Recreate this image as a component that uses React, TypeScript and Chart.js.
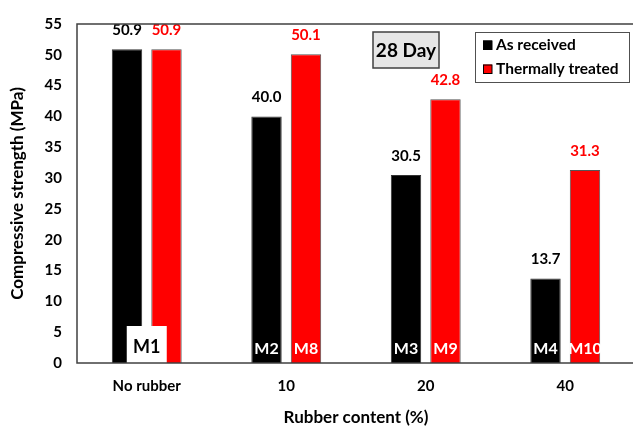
import React, { useEffect, useRef } from "react";
import { Chart, registerables } from "chart.js";

Chart.register(...registerables);

const categories = ["No rubber", "10", "20", "40"];
const asReceived = [50.9, 40.0, 30.5, 13.7];
const thermallyTreated = [50.9, 50.1, 42.8, 31.3];
const asReceivedMix = ["M1", "M2", "M3", "M4"];
const treatedMix = ["", "M8", "M9", "M10"];
const seriesNames = ["As received", "Thermally treated"];
const seriesColors = ["#000000", "#ff0000"];
const yMin = 0;
const yMax = 55;
const yStep = 5;
const ageLabel = "28 Day";
const xTitle = "Rubber content (%)";
const yTitle = "Compressive strength (MPa)";

const FONT = "Lato, 'Open Sans', sans-serif";

const overlayPlugin = {
  id: "overlay",
  afterDatasetsDraw(chart: any) {
    const ctx = chart.ctx;
    const area = chart.chartArea;
    const yScale = chart.scales.y;
    const xScale = chart.scales.x;
    const base = yScale.getPixelForValue(0);
    ctx.save();

    // value labels
    const mixes = [asReceivedMix, treatedMix];
    chart.data.datasets.forEach((ds: any, i: number) => {
      const meta = chart.getDatasetMeta(i);
      meta.data.forEach((bar: any, j: number) => {
        ctx.font = `bold 15px ${FONT}`;
        ctx.textAlign = "center";
        ctx.textBaseline = "middle";
        ctx.fillStyle = seriesColors[i];
        ctx.fillText(Number(ds.data[j]).toFixed(1), bar.x, bar.y - 19);
        const m = mixes[i][j];
        if (m && !(i === 0 && j === 0)) {
          ctx.font = `bold 16px ${FONT}`;
          ctx.fillStyle = "#ffffff";
          ctx.fillText(m, bar.x, base - 14);
        }
      });
    });

    // M1 white box
    const cx = xScale.getPixelForValue(0);
    ctx.fillStyle = "#ffffff";
    ctx.fillRect(cx - 20, base - 37, 40, 37);
    ctx.font = `bold 18px ${FONT}`;
    ctx.fillStyle = "#000000";
    ctx.textAlign = "center";
    ctx.textBaseline = "middle";
    ctx.fillText(asReceivedMix[0], cx, base - 16);

    // frame
    ctx.strokeStyle = "#404040";
    ctx.lineWidth = 1.5;
    ctx.strokeRect(area.left, area.top, area.right - area.left, area.bottom - area.top);

    // 28 Day box
    const bx = area.left + 296;
    const by = area.top + 8;
    ctx.fillStyle = "#e6e6e6";
    ctx.fillRect(bx, by, 66, 36);
    ctx.strokeStyle = "#404040";
    ctx.lineWidth = 1.5;
    ctx.strokeRect(bx, by, 66, 36);
    ctx.font = `bold 19px ${FONT}`;
    ctx.fillStyle = "#000000";
    ctx.textAlign = "center";
    ctx.fillText(ageLabel, bx + 33, by + 19);

    // legend
    const lx = area.left + 398;
    const ly = area.top + 8;
    ctx.fillStyle = "#ffffff";
    ctx.fillRect(lx, ly, 154, 50);
    ctx.strokeStyle = "#505050";
    ctx.lineWidth = 1;
    ctx.strokeRect(lx + 0.5, ly + 0.5, 154, 50);
    seriesNames.forEach((name, i) => {
      const yy = ly + 13 + i * 24;
      ctx.fillStyle = seriesColors[i];
      ctx.fillRect(lx + 8, yy - 4.5, 9, 9);
      ctx.strokeStyle = "#000000";
      ctx.lineWidth = 1;
      ctx.strokeRect(lx + 8.5, yy - 4, 8.5, 8.5);
      ctx.font = `bold 15.5px ${FONT}`;
      ctx.fillStyle = "#000000";
      ctx.textAlign = "left";
      ctx.textBaseline = "middle";
      ctx.fillText(name, lx + 21, yy);
    });

    ctx.restore();
  },
};

export default function App() {
  const ref = useRef<HTMLCanvasElement>(null);
  useEffect(() => {
    if (!ref.current) return;
    const chart = new Chart(ref.current, {
      type: "bar",
      data: {
        labels: categories,
        datasets: [
          {
            label: seriesNames[0],
            data: asReceived,
            backgroundColor: seriesColors[0],
            borderColor: "#333333",
            borderWidth: 1,
          },
          {
            label: seriesNames[1],
            data: thermallyTreated,
            backgroundColor: seriesColors[1],
            borderColor: "#555555",
            borderWidth: 1,
          },
        ],
      },
      options: {
        responsive: false,
        animation: false,
        devicePixelRatio: 1,
        datasets: {
          bar: { categoryPercentage: 0.566, barPercentage: 0.77 },
        },
        layout: { padding: { top: 15, left: 0, right: 1, bottom: 0 } },
        plugins: {
          legend: { display: false },
          tooltip: { enabled: false },
        },
        scales: {
          x: {
            grid: { display: false, drawTicks: false },
            border: { display: false },
            ticks: { font: { family: FONT, size: 15, weight: "bold" }, color: "#000", padding: 14 },
            title: {
              display: true,
              text: xTitle,
              font: { family: FONT, size: 17, weight: "bold" },
              color: "#000",
              padding: { top: 10, bottom: 5 },
            },
            afterFit: (s: any) => {
              s.height = 70;
            },
          },
          y: {
            min: yMin,
            max: yMax,
            grid: { display: false, drawTicks: false },
            border: { display: false },
            ticks: {
              stepSize: yStep,
              font: { family: FONT, size: 15, weight: "bold" },
              color: "#000",
              padding: 15,
            },
            title: {
              display: true,
              text: yTitle,
              font: { family: FONT, size: 17, weight: "bold" },
              color: "#000",
              padding: { top: 7, bottom: 0 },
            },
            afterFit: (s: any) => {
              s.width = 77;
            },
          },
        },
      },
      plugins: [overlayPlugin],
    });
    return () => chart.destroy();
  }, []);
  return (
    <div style={{ position: "fixed", left: 0, top: 0, width: 633, height: 433, overflow: "hidden", background: "#fff" }}>
      <canvas ref={ref} width={636} height={433} style={{ display: "block" }} />
    </div>
  );
}
